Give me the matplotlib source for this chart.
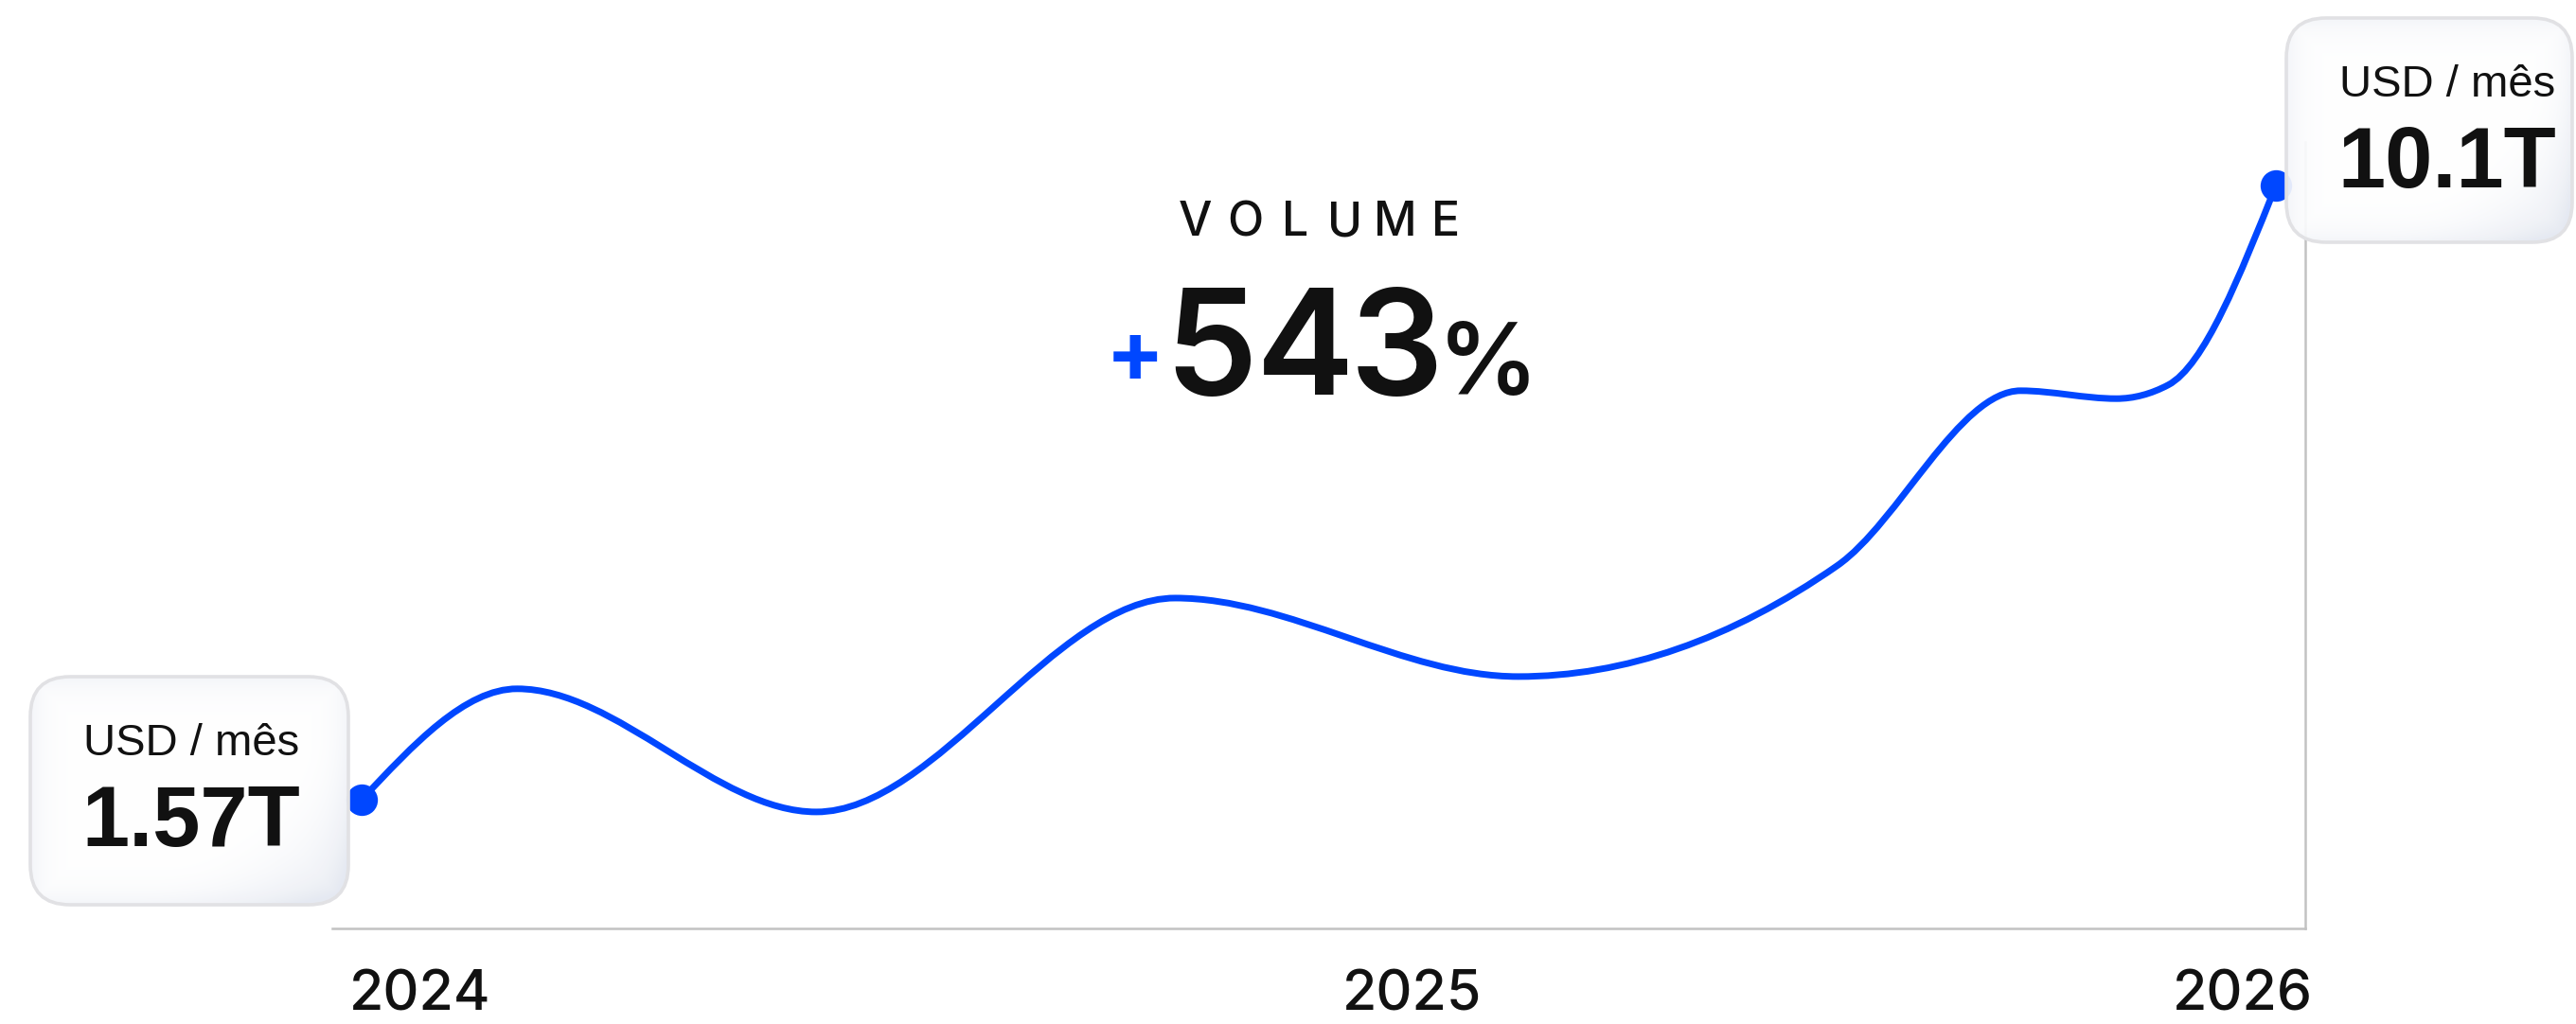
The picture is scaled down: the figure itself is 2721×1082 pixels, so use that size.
import numpy as np
import matplotlib
matplotlib.use("Agg")
import matplotlib.pyplot as plt
from matplotlib.path import Path
from matplotlib.patches import PathPatch, FancyBboxPatch

# ---------------- data ----------------
months = [0.0, 1.95, 5.7, 10.2, 14.5, 18.5, 20.8, 22.0, 22.65, 24.0]      # months since Jan 2024
volume = [1.57, 3.11, 1.40, 4.37, 3.28, 4.82, 7.25, 7.14, 7.33, 10.1]     # USD trillions / month
year_labels = ["2024", "2025", "2026"]
start_label = "1.57T"
end_label = "10.1T"
unit_label = "USD / mês"
title_word = "VOLUME"
growth_sign = "+"
growth_value = "543"
growth_unit = "%"

BLUE = "#0047FF"
INK = "#111111"
AXIS = "#c2c2c2"

W, H = 2721, 1082
fig = plt.figure(figsize=(W / 100, H / 100), dpi=100)
fig.patch.set_facecolor("white")


def fx(px):
    return px / W


def fy(py):
    return 1 - py / H


# ---------------- main axes ----------------
ax = fig.add_axes([fx(351), fy(981), (2435 - 351) / W, (981 - 150) / H])
ax.set_xlim(-0.368, 24.368)
ax.set_ylim(-0.218, 10.705)
ax.set_xticks([])
ax.set_yticks([])
for s in ("top", "left"):
    ax.spines[s].set_visible(False)
for s in ("bottom", "right"):
    ax.spines[s].set_color(AXIS)
    ax.spines[s].set_linewidth(1.8)
ax.patch.set_alpha(0)


def monotone_path(x, y):
    """Monotone cubic (d3 curveMonotoneX) as a Bezier path."""
    x = np.asarray(x, float)
    y = np.asarray(y, float)
    n = len(x)
    h = np.diff(x)
    s = np.diff(y) / h
    t = np.zeros(n)
    for i in range(1, n - 1):
        p = (s[i - 1] * h[i] + s[i] * h[i - 1]) / (h[i - 1] + h[i])
        t[i] = (np.sign(s[i - 1]) + np.sign(s[i])) * min(abs(s[i - 1]), abs(s[i]), 0.5 * abs(p))
    t[0] = (3 * s[0] - t[1]) / 2
    t[-1] = (3 * s[-1] - t[-2]) / 2
    verts = [(x[0], y[0])]
    codes = [Path.MOVETO]
    for i in range(n - 1):
        dx = h[i] / 3
        verts += [(x[i] + dx, y[i] + dx * t[i]),
                  (x[i + 1] - dx, y[i + 1] - dx * t[i + 1]),
                  (x[i + 1], y[i + 1])]
        codes += [Path.CURVE4] * 3
    return Path(verts, codes)


ax.add_patch(PathPatch(monotone_path(months, volume), fill=False, edgecolor=BLUE,
                       lw=5.0, capstyle="round", joinstyle="round", zorder=3))
ax.plot([months[0], months[-1]], [volume[0], volume[-1]], "o", ms=24, color=BLUE,
        mec="none", zorder=4, clip_on=False)

# year labels
year_pos = [(0.0086, "left"), (0.5475, "center"), (1.0038, "right")]
for lab, (xp, ha) in zip(year_labels, year_pos):
    ax.text(xp, (981 - 1068) / 831, lab, transform=ax.transAxes, ha=ha, va="baseline",
            fontsize=42.5, family="Inter", fontweight="medium", color=INK)


# ---------------- value boxes ----------------
def draw_box(x0, y0, x1, y1, unit, value):
    w, h = x1 - x0, y1 - y0
    bax = fig.add_axes([fx(x0), fy(y1), w / W, h / H], zorder=5)
    bax.set_xlim(0, w)
    bax.set_ylim(h, 0)
    bax.axis("off")
    border = FancyBboxPatch((2, 2), w - 4, h - 4, boxstyle="round,pad=0,rounding_size=42",
                            facecolor="none", edgecolor="#e1e1e4", lw=2.6, zorder=3)
    bax.add_patch(border)
    xx, yy = np.meshgrid(np.linspace(0, 1, 240), np.linspace(0, 1, 240))
    corner = np.clip((xx * 0.55 + yy * 0.45 - 0.62) / 0.38, 0, 1) ** 2
    edge = np.minimum.reduce([xx * w, (1 - xx) * w, yy * h, (1 - yy) * h])
    glow = np.exp(-edge / 16.0) * 0.5
    k = np.clip(corner + glow, 0, 1)
    c0 = np.array([1.0, 1.0, 1.0])
    c1 = np.array([0.895, 0.91, 0.945])
    rgb = c0[None, None, :] * (1 - k[..., None]) + c1[None, None, :] * k[..., None]
    img = bax.imshow(rgb, extent=[0, w, h, 0], aspect="auto", zorder=1, alpha=0.93,
                     interpolation="bilinear")
    img.set_clip_path(border)
    bax.text(172, 85, unit, ha="center", va="baseline", fontsize=34,
             family="Liberation Sans", color=INK, zorder=4)
    bax.text(172, 181, value, ha="center", va="baseline", fontsize=65,
             family="Liberation Sans", fontweight="bold", color=INK, zorder=4)


draw_box(30, 713, 370, 958, unit_label, start_label)
draw_box(2413, 17, 2719, 258, unit_label, end_label)

# ---------------- headline ----------------
for i, ch in enumerate(title_word):
    fig.text(fx(1394.5 + (i - 2.5) * 53), fy(249), ch, ha="center", va="baseline",
             fontsize=36, family="Inter", fontweight="medium", color=INK)

digit_centers = [1279, 1378.5, 1475.5]
for ch, cx in zip(growth_value, digit_centers):
    fig.text(fx(cx), fy(417), ch, ha="center", va="baseline", fontsize=112,
             family="Inter", fontweight="semibold", color=INK)
fig.text(fx(1572), fy(417), growth_unit, ha="center", va="baseline", fontsize=76,
         family="Inter", fontweight="semibold", color=INK)
fig.text(fx(1199), fy(404), growth_sign, ha="center", va="baseline", fontsize=66,
         family="Inter", fontweight="bold", color=BLUE)

fig.savefig("out.png", dpi=100, facecolor="white")
